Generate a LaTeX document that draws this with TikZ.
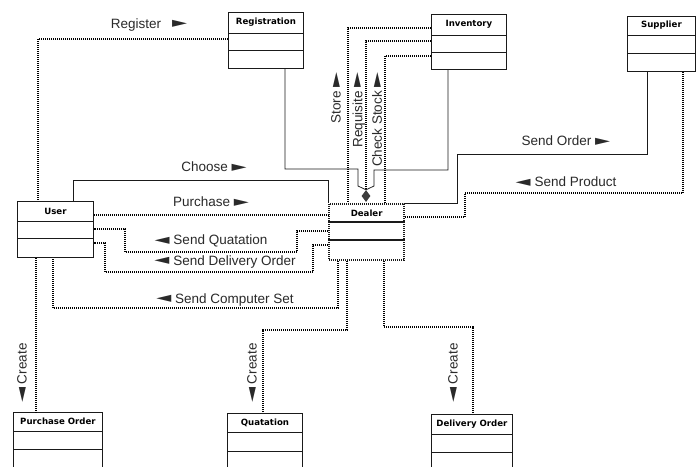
\documentclass[tikz,border=0pt]{standalone}
\usepackage{fontspec}
\usepackage{graphicx}
\setmainfont{Liberation Sans}
\newfontfamily\titlefont{DejaVu Sans}
\newfontfamily\symfont{DejaVu Sans}
\usetikzlibrary{shapes.geometric,calc}
\newcommand\rar{{\symfont\raisebox{0.5pt}{\scalebox{1.45}[1.05]{►}}}}
\newcommand\lar{{\symfont\raisebox{0.5pt}{\scalebox{1.45}[1.05]{◄}}}}
\definecolor{ink}{HTML}{1A1A1A}
\definecolor{txt}{HTML}{2A2A2A}
\newcommand\umlclass[9][clsbox]{%
  \node[#1,minimum width=#5pt,minimum height=#6pt] (#2) at (#3,#4) {};
  \node[clstitle] (#2-t) at ($(#2.north)+(0,#8/2)$) {#7};
  \draw[clsline] ($(#2.north west)+(0,#8)$) -- ($(#2.north east)+(0,#8)$);
  \draw[clsline] ($(#2.north west)+(0,#9)$) -- ($(#2.north east)+(0,#9)$);
}
\begin{document}
\begin{tikzpicture}[x=1pt,y=-1pt,
  clsbox/.style={draw=ink,line width=0.9pt,anchor=north west,inner sep=0pt,fill=white},
  dealerbox/.style={draw=ink,line width=2.3pt,dash pattern=on 1pt off 1pt,anchor=north west,inner sep=0pt,fill=white},
  clstitle/.style={font=\titlefont\bfseries\fontsize{8.6}{10}\selectfont,text=black,inner sep=0pt},
  clsline/.style={draw=ink,line width=0.9pt},
  dot/.style={draw=black,line width=1.3pt,dash pattern=on 1pt off 1pt},
  sol/.style={draw=ink,line width=0.75pt},
  lbl/.style={font=\fontsize{13.5}{16}\selectfont,text=txt,inner sep=0pt}]
\useasboundingbox (0,0) rectangle (696,466);
\clip (0,0) rectangle (696,466);
\fill[white] (0,0) rectangle (696,466);

\coordinate (rJ) at (358,169);
\coordinate (iJ) at (374,170);

% classes
\umlclass{reg}{228}{12}{75}{56}{Registration}{21}{38}
\umlclass{inv}{431}{14}{75}{55}{Inventory}{21}{38}
\umlclass{sup}{627}{16}{68}{55}{Supplier}{19}{37}
\umlclass{user}{17}{201}{76}{56}{User}{20}{37}
\umlclass{po}{13}{412}{89}{80}{Purchase Order}{19}{37}
\umlclass{quo}{227}{413}{75}{80}{Quatation}{19}{38}
\umlclass{del}{431}{414}{81}{80}{Delivery Order}{20}{38}

\node[dealerbox,minimum width=75pt,minimum height=56pt] (dealer) at (328,203) {};
\node[clstitle] (dealer-t) at ($(dealer.north)+(0,10)$) {Dealer};
\draw[line width=2pt,draw=ink] ($(dealer.north west)+(0,19)$) -- ($(dealer.north east)+(0,19)$);
\draw[line width=2pt,draw=ink] ($(dealer.north west)+(0,37)$) -- ($(dealer.north east)+(0,37)$);

\node[diamond,fill=ink!85,inner sep=0pt,minimum width=9pt,minimum height=12pt] (dia) at (366,196) {};

% Register
\draw[dot] ($(reg.north west)+(0,27)$) -| ($(user.north west)+(21,0)$);
% Registration -> Dealer (solid)
\draw[sol] ($(reg.south west)+(57,0)$) |- (rJ) -- ++(0,17) -- (dia.north);
% Store
\draw[dot] ($(inv.north west)+(0,14)$) -| ($(dealer.north west)+(20,0)$);
% Requisite
\draw[dot] ($(inv.north west)+(0,27)$) -| (dia.north);
% Check Stock
\draw[dot] ($(inv.north west)+(0,42)$) -| ($(dealer.north west)+(57,0)$);
% Inventory -> Dealer (solid)
\draw[sol] ($(inv.south west)+(17,0)$) |- (iJ) -- ++(0,16) -- (dia.north);
% Choose
\draw[sol] ($(user.north west)+(56,0)$) |- (328,180) -- (dealer.north west);
% Purchase
\draw[dot] ($(user.north east)+(0,14)$) -- ($(dealer.north west)+(0,12)$);
% Send Quatation
\draw[dot] ($(dealer.north west)+(0,28)$) -| (297,252) -| (125,229) -- ($(user.north east)+(0,28)$);
% Send Delivery Order
\draw[dot] ($(dealer.north west)+(0,42)$) -| (313,272) -| (105,243) -- ($(user.north east)+(0,42)$);
% Send Computer Set
\draw[dot] ($(dealer.south west)+(10,0)$) |- (53,308) -- ($(user.south west)+(36,0)$);
% Create (Purchase Order)
\draw[dot] ($(user.south west)+(19,0)$) -- ($(po.north west)+(23,0)$);
% Create (Quatation)
\draw[dot] ($(dealer.south west)+(19,0)$) |- (263,330) -- ($(quo.north west)+(36,0)$);
% Create (Delivery Order)
\draw[dot] ($(dealer.south west)+(56,0)$) |- (473,327) -- ($(del.north west)+(42,0)$);
% Send Order (solid)
\draw[sol] ($(sup.south west)+(20,0)$) |- (457,154) |- (dealer.north east);
% Send Product
\draw[dot] ($(sup.south west)+(56,0)$) |- (465,193) |- ($(dealer.north east)+(0,14)$);

% labels
\node[lbl] (lReg) at (149,25) {Register\hspace{11pt}\rar};
\node[lbl] (lCho) at (214,167) {Choose \rar};
\node[lbl] (lPur) at (211,202) {Purchase \rar};
\node[lbl] (lQuo) at (211,241) {\lar{} Send Quatation};
\node[lbl] (lDel) at (225,262) {\lar{} Send Delivery Order};
\node[lbl] (lCom) at (225,300) {\lar{} Send Computer Set};
\node[lbl] (lOrd) at (566,141) {Send Order \rar};
\node[lbl] (lPro) at (566,182) {\lar{} Send Product};
\node[lbl,rotate=90,anchor=east] (lSto) at (336,72) {Store \rar};
\node[lbl,rotate=90,anchor=east] (lReq) at (359,72) {Requisite \rar};
\node[lbl,rotate=90,anchor=east] (lChk) at (377,72) {Check Stock \rar};
\node[lbl,rotate=90,anchor=west] (lCr1) at (22,403) {\lar{} Create};
\node[lbl,rotate=90,anchor=west] (lCr2) at (252,403) {\lar{} Create};
\node[lbl,rotate=90,anchor=west] (lCr3) at (453,403) {\lar{} Create};
\end{tikzpicture}
\end{document}
